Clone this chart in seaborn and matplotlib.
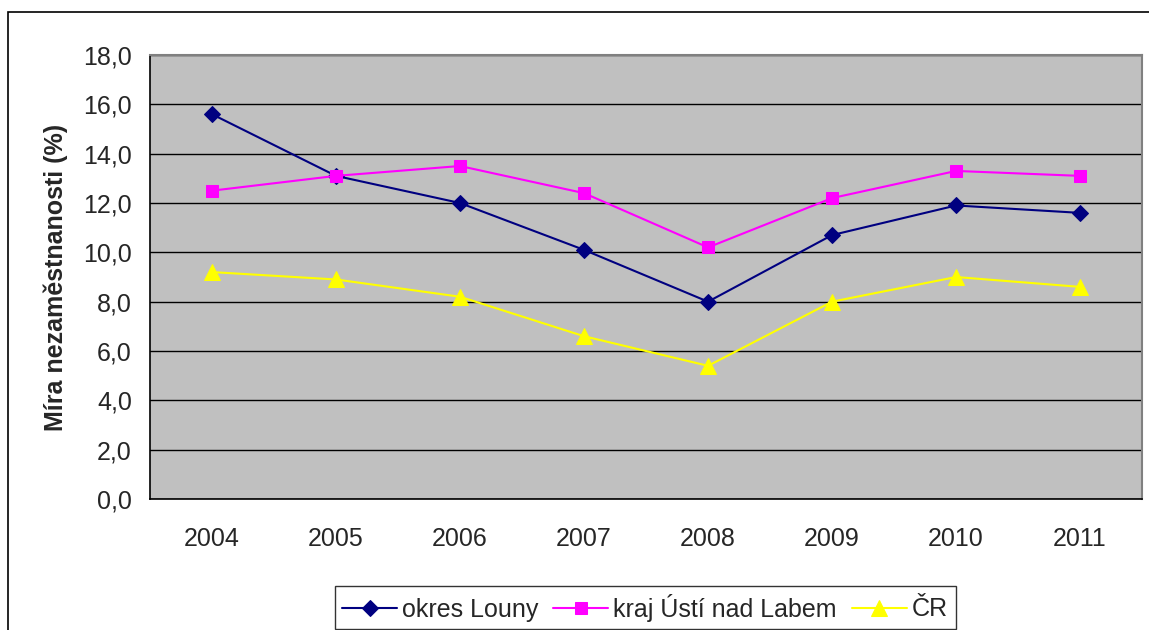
import pandas as pd
import seaborn as sns
import matplotlib.pyplot as plt
from matplotlib.patches import Rectangle
from matplotlib.ticker import FixedLocator, FuncFormatter

years = ["2004", "2005", "2006", "2007", "2008", "2009", "2010", "2011"]
louny = [15.6, 13.1, 12.0, 10.1, 8.0, 10.7, 11.9, 11.6]
ustecky = [12.5, 13.1, 13.5, 12.4, 10.2, 12.2, 13.3, 13.1]
cr = [9.2, 8.9, 8.2, 6.6, 5.4, 8.0, 9.0, 8.6]

series = ["okres Louny", "kraj Ústí nad Labem", "ČR"]
colors = {"okres Louny": "#000080", "kraj Ústí nad Labem": "#FF00FF", "ČR": "#FFFF00"}
markers = {"okres Louny": "D", "kraj Ústí nad Labem": "s", "ČR": "^"}
sizes = {"okres Louny": 8, "kraj Ústí nad Labem": 8.5, "ČR": 11}

df = pd.DataFrame({
    "x": list(range(len(years))) * 3,
    "value": louny + ustecky + cr,
    "series": [s for s in series for _ in years],
})

sns.set_style("white")
plt.rcParams["font.family"] = ["Liberation Sans", "DejaVu Sans"]

fig = plt.figure(figsize=(11.49, 6.3), dpi=100)
ax = fig.add_axes([0.1305, 0.2079, 0.8635, 0.7048])

for name in series:
    sub = df[df["series"] == name]
    sns.lineplot(data=sub, x="x", y="value", ax=ax, color=colors[name],
                 marker=markers[name], markersize=sizes[name],
                 markeredgecolor=colors[name], linewidth=1.5, label=name)

ax.set_facecolor("#C0C0C0")
ax.set_xlim(-0.5, len(years) - 0.5)
ax.set_ylim(0, 18)
ax.set_yticks(range(0, 19, 2))
ax.yaxis.set_major_formatter(FuncFormatter(lambda v, p: f"{v:.1f}".replace(".", ",")))
ax.yaxis.grid(True, color="black", linewidth=1)
ax.xaxis.grid(False)
ax.set_axisbelow(True)

ax.set_xticks(range(len(years)))
ax.set_xticklabels(years)
ax.xaxis.set_minor_locator(FixedLocator([i - 0.5 for i in range(len(years) + 1)]))
ax.tick_params(axis="x", which="major", length=0, pad=20, labelsize=18)
ax.tick_params(axis="x", which="minor", length=7, width=1, color="black", direction="out")
ax.tick_params(axis="y", length=7, width=1, color="black", direction="out", labelsize=18, pad=6)

for side in ["left", "bottom"]:
    ax.spines[side].set_color("black")
    ax.spines[side].set_linewidth(1.2)
for side in ["top", "right"]:
    ax.spines[side].set_color("#808080")
    ax.spines[side].set_linewidth(1.5)

ax.set_xlabel("")
ax.set_ylabel("Míra nezaměstnanosti (%)", fontsize=18, fontweight="bold", labelpad=11)

ax.legend_.remove()
handles, labels = ax.get_legend_handles_labels()
leg = fig.legend(handles, labels, loc="upper center", bbox_to_anchor=(0.5614, 1 - 586 / 630),
                 ncol=3, fontsize=18, frameon=True, fancybox=False, edgecolor="black",
                 handlelength=2.2, columnspacing=0.6, handletextpad=0.2, borderpad=0.3,
                 borderaxespad=0)
leg.get_frame().set_linewidth(1)

fig.patches.append(Rectangle((8 / 1149, -0.01), 1.1, 1 - 12 / 630 + 0.01,
                             transform=fig.transFigure, fill=False,
                             edgecolor="black", linewidth=1.2))

fig.savefig("out.png", dpi=100, facecolor="white")
